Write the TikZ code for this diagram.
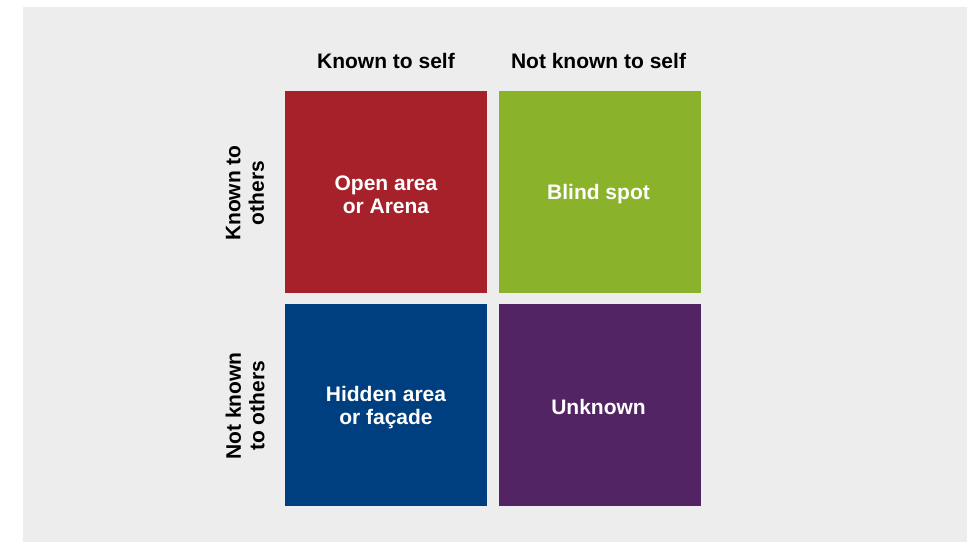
\documentclass[tikz,border=0pt]{standalone}
\usepackage{fontspec}
\setmainfont{Liberation Sans}
\definecolor{bg}{HTML}{EDEDED}
\definecolor{cred}{HTML}{A6212A}
\definecolor{cgreen}{HTML}{8AB22A}
\definecolor{cblue}{HTML}{003F7F}
\definecolor{cpurple}{HTML}{522464}
\begin{document}
\begin{tikzpicture}[x=1pt,y=-1pt,
  quad/.style={minimum width=202pt,minimum height=202pt,inner sep=0pt},
  qtext/.style={text=white,font=\fontsize{21}{23}\selectfont\bfseries,align=center,inner sep=0pt},
  head/.style={font=\fontsize{21}{23.5}\selectfont\bfseries,align=center,text=black,inner sep=0pt}]
\useasboundingbox (0,0) rectangle (967,542);
\fill[white] (0,0) rectangle (967,542);
\fill[bg] (23,7) rectangle (967,542);
\node[quad,fill=cred] (oa) at (386,192) {};
\node[quad,fill=cgreen] (bs) at (600,192) {};
\node[quad,fill=cblue] (ha) at (386,405) {};
\node[quad,fill=cpurple] (uk) at (600,405) {};
\node[qtext] (toa) at ([yshift=-3pt]oa.center) {Open area\\or Arena};
\node[qtext] (tbs) at ([xshift=-1.5pt,yshift=-2.5pt]bs.center) {Blind spot};
\node[qtext] (tha) at ([yshift=-3pt]ha.center) {Hidden area\\or façade};
\node[qtext] (tuk) at ([xshift=-1.5pt,yshift=-2pt]uk.center) {Unknown};
\node[head] (h1) at (386,61) {Known to self};
\node[head] (h2) at (598.5,61) {Not known to self};
\node[head,rotate=90] (r1) at (245,193) {Known to\\others};
\node[head,rotate=90] (r2) at (245,406) {Not known\\to others};
\end{tikzpicture}
\end{document}
